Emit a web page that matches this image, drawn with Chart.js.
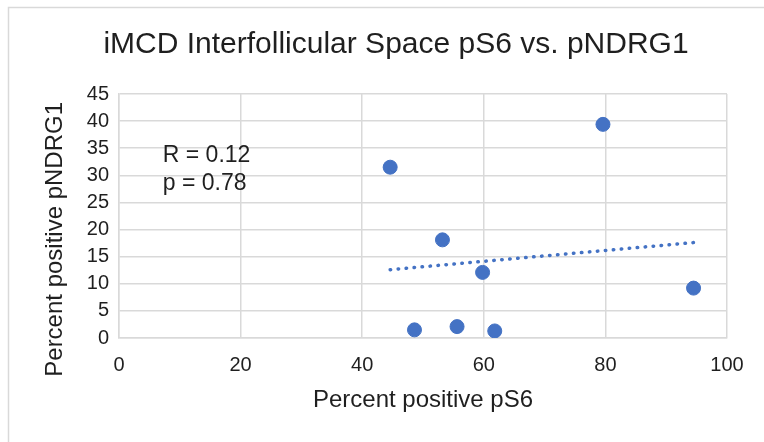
<!DOCTYPE html>
<html>
<head>
<meta charset="utf-8">
<script src="https://cdn.jsdelivr.net/npm/chart.js@4/dist/chart.umd.min.js"></script>
<style>
  html, body { margin: 0; padding: 0; background: #fff; }
  #wrap { width: 764px; height: 442px; }
</style>
</head>
<body>
<div id="wrap"><canvas id="chartScatter"></canvas></div>
<script>
// datos
var ps6 = [44.6, 79.6, 53.2, 59.8, 94.5, 48.6, 55.6, 61.8];
var pndrg1 = [31.5, 39.4, 18.1, 12.1, 9.2, 1.5, 2.1, 1.3];

// linea de tendencia (extremos)
var trendX = [44.6, 94.5];
var trendY = [12.6, 17.6];

var xTicks = [0, 20, 40, 60, 80, 100];
var yTicks = [0, 5, 10, 15, 20, 25, 30, 35, 40, 45];

var titleText = 'iMCD Interfollicular Space pS6 vs. pNDRG1';
var statsText = ['R = 0.12', 'p = 0.78'];

var FONT = "'Liberation Sans', Arial, sans-serif";
var GRID = '#d9d9d9';
var BLUE = '#4472c4';
var TEXT = '#1f1f1f';

function toXY(xs, ys) {
    var out = [];
    for (var i = 0; i < xs.length; i++) {
        out.push({ x: xs[i], y: ys[i] });
    }
    return out;
}

// marco, titulo y texto R/p
var decoPlugin = {
    id: 'deco',
    beforeDraw: function (chart) {
        var ctx = chart.ctx;
        ctx.save();
        ctx.fillStyle = '#fff';
        ctx.fillRect(0, 0, chart.width, chart.height);
        ctx.strokeStyle = GRID;
        ctx.lineWidth = 1.5;
        ctx.beginPath();
        ctx.moveTo(8.5, chart.height);
        ctx.lineTo(8.5, 7.5);
        ctx.lineTo(chart.width, 7.5);
        ctx.stroke();
        ctx.restore();
    },
    afterDraw: function (chart) {
        var ctx = chart.ctx;
        var xs = chart.scales.x, ys = chart.scales.y;
        ctx.save();
        ctx.fillStyle = TEXT;
        ctx.textBaseline = 'middle';
        ctx.textAlign = 'center';
        ctx.font = '30px ' + FONT;
        ctx.fillText(titleText, 396, 45);
        ctx.textAlign = 'left';
        ctx.font = '23px ' + FONT;
        ctx.fillText(statsText[0], xs.getPixelForValue(7.2), ys.getPixelForValue(33.7));
        ctx.fillText(statsText[1], xs.getPixelForValue(7.2), ys.getPixelForValue(28.4));
        ctx.restore();
    }
};

var chartInstance = new Chart(document.getElementById('chartScatter'), {
    type: 'scatter',
    data: {
        datasets: [{
            data: toXY(ps6, pndrg1),
            backgroundColor: BLUE,
            borderColor: BLUE,
            pointRadius: 7,
            pointHoverRadius: 7,
            order: 1
        }, {
            type: 'line',
            data: toXY(trendX, trendY),
            borderColor: BLUE,
            borderWidth: 3.5,
            borderDash: [0.5, 7.5],
            borderCapStyle: 'round',
            pointRadius: 0,
            fill: false,
            order: 2
        }]
    },
    options: {
        responsive: true,
        maintainAspectRatio: false,
        animation: false,
        layout: { padding: { top: 94, right: 37, bottom: 0, left: 0 } },
        plugins: {
            legend: { display: false },
            tooltip: { enabled: false }
        },
        scales: {
            x: {
                type: 'linear',
                min: 0,
                max: 100,
                afterBuildTicks: function (s) { s.ticks = xTicks.map(function (v) { return { value: v }; }); },
                afterFit: function (s) { s.height = 104; },
                grid: { color: GRID, lineWidth: 1.5, drawTicks: false },
                border: { color: GRID, width: 1.5 },
                ticks: { color: TEXT, padding: 15, font: { family: FONT, size: 20 } },
                title: {
                    display: true,
                    text: 'Percent positive pS6',
                    color: TEXT,
                    font: { family: FONT, size: 24 },
                    padding: { top: 0, bottom: 27 }
                }
            },
            y: {
                type: 'linear',
                min: 0,
                max: 45,
                afterBuildTicks: function (s) { s.ticks = yTicks.map(function (v) { return { value: v }; }); },
                afterFit: function (s) { s.width = 119; },
                grid: { color: GRID, lineWidth: 1.5, drawTicks: false },
                border: { color: GRID, width: 1.5 },
                ticks: { color: TEXT, padding: 10, font: { family: FONT, size: 20 } },
                title: {
                    display: true,
                    // espacios al final para bajar el titulo como en Excel
                    text: 'Percent positive pNDRG1       ',
                    color: TEXT,
                    font: { family: FONT, size: 24 },
                    padding: { top: 41, bottom: 0 }
                }
            }
        }
    },
    plugins: [decoPlugin]
});
</script>
</body>
</html>
